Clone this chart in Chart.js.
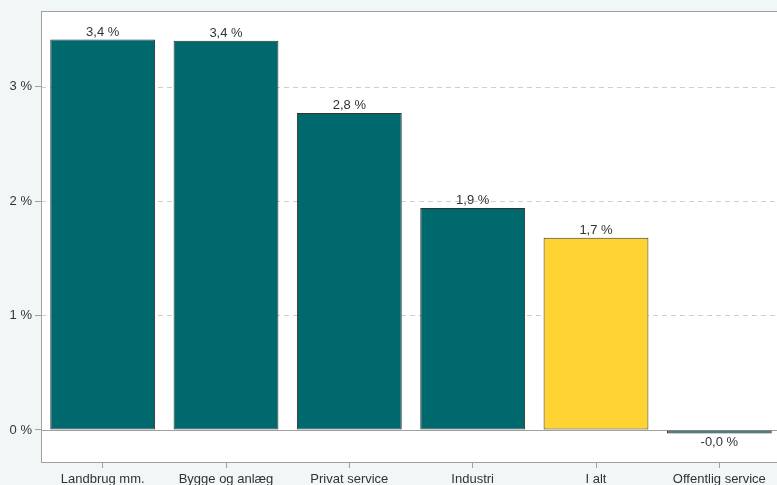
<!DOCTYPE html>
<html>
<head>
<meta charset="utf-8">
<script src="https://cdn.jsdelivr.net/npm/chart.js@4.4.1/dist/chart.umd.min.js"></script>
<style>
html,body{margin:0;padding:0;overflow:hidden;background:#f1f6f6;}
#wrap{position:relative;width:790px;height:485px;}
</style>
</head>
<body>
<div id="wrap"><canvas id="c"></canvas></div>
<script>
const categories = ["Landbrug mm.", "Bygge og anlæg", "Privat service", "Industri", "I alt", "Offentlig service"];
const values = [3.41, 3.40, 2.77, 1.94, 1.68, -0.03];
const valueLabels = ["3,4 %", "3,4 %", "2,8 %", "1,9 %", "1,7 %", "-0,0 %"];
const yTicks = [0, 1, 2, 3];
const tealColor = "#00696e";
const yellowColor = "#ffd332";
const barColors = categories.map(c => c === "I alt" ? yellowColor : tealColor);

const FONT = "'Liberation Sans', Arial, sans-serif";
Chart.defaults.font.family = FONT;
Chart.defaults.font.size = 13;
Chart.defaults.color = "#333";

const bgPlugin = {
  id: 'bg',
  beforeDraw(chart) {
    const {ctx, chartArea: a} = chart;
    ctx.save();
    ctx.fillStyle = '#ffffff';
    ctx.fillRect(a.left, a.top, a.right - a.left, a.bottom - a.top);
    const y = chart.scales.y;
    ctx.lineWidth = 1;
    yTicks.forEach(v => {
      const py = Math.round(y.getPixelForValue(v)) + 0.5;
      ctx.beginPath();
      if (v === 0) { ctx.setLineDash([]); ctx.strokeStyle = '#a0a0a0'; }
      else { ctx.setLineDash([5, 4]); ctx.strokeStyle = '#cfcfcf'; }
      ctx.moveTo(a.left, py); ctx.lineTo(a.right, py); ctx.stroke();
    });
    ctx.restore();
  },
  afterDatasetsDraw(chart) {
    const {ctx, chartArea: a} = chart;
    ctx.save();
    ctx.strokeStyle = '#a0a0a0';
    ctx.lineWidth = 1;
    ctx.strokeRect(Math.round(a.left) + 0.5, Math.round(a.top) + 0.5, Math.round(a.right - a.left), Math.round(a.bottom - a.top));
    const meta = chart.getDatasetMeta(0);
    ctx.fillStyle = '#333';
    ctx.font = "13px " + FONT;
    ctx.textAlign = 'center';
    meta.data.forEach((bar, i) => {
      const v = values[i];
      if (v >= 0) {
        ctx.textBaseline = 'bottom';
        ctx.fillText(valueLabels[i], bar.x, bar.y - 1);
      } else {
        ctx.textBaseline = 'top';
        ctx.fillText(valueLabels[i], bar.x, bar.y + 3);
      }
    });
    ctx.restore();
  }
};

new Chart(document.getElementById('c'), {
  type: 'bar',
  data: {
    labels: categories,
    datasets: [{
      data: values,
      backgroundColor: barColors,
      borderColor: '#333333',
      borderWidth: 1,
      borderSkipped: false,
      barPercentage: 0.85,
      categoryPercentage: 1.0
    }]
  },
  options: {
    responsive: true,
    maintainAspectRatio: false,
    animation: false,
    devicePixelRatio: 1,
    layout: { padding: { top: 11, right: 9, left: 0, bottom: 0 } },
    plugins: { legend: { display: false }, tooltip: { enabled: false } },
    scales: {
      x: {
        grid: { display: true, drawOnChartArea: false, drawTicks: true, tickLength: 6, tickColor: '#a0a0a0', offset: false },
        border: { display: false },
        ticks: { padding: 4, color: '#333', maxRotation: 0, autoSkip: false },
        afterFit(s) { s.height = 23; }
      },
      y: {
        min: -0.28,
        max: 3.66,
        grid: { display: true, drawOnChartArea: false, drawTicks: true, tickLength: 6, tickColor: '#a0a0a0' },
        border: { display: false },
        ticks: { stepSize: 1, padding: 3, color: '#333', callback: v => v + ' %' },
        afterBuildTicks(s) { s.ticks = yTicks.map(v => ({ value: v })); },
        afterFit(s) { s.width = 41; }
      }
    }
  },
  plugins: [bgPlugin]
});
</script>
</body>
</html>
